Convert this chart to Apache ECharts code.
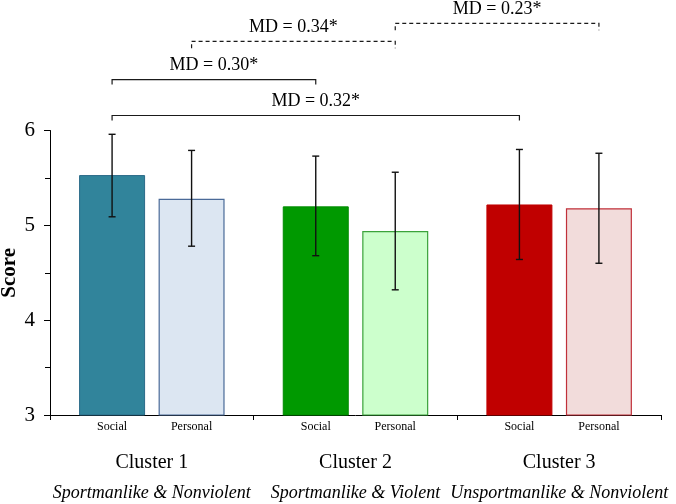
<!DOCTYPE html>
<html>
<head>
<meta charset="utf-8">
<script src="https://cdn.jsdelivr.net/npm/echarts@6/dist/echarts.min.js"></script>
<style>
  html, body { margin: 0; padding: 0; background: #fff; }
  #chart { width: 676px; height: 504px; }
</style>
</head>
<body>
<div id="chart"></div>
<script>
// ---------- data ----------
var clusters = ['Cluster 1', 'Cluster 2', 'Cluster 3'];
var clusterDescs = ['Sportmanlike & Nonviolent', 'Sportmanlike & Violent', 'Unsportmanlike & Nonviolent'];
var seriesNames = ['Social', 'Personal'];
var socialMean = [5.53, 5.20, 5.22];
var socialLow = [5.09, 4.68, 4.64];
var socialHigh = [5.96, 5.73, 5.80];
var personalMean = [5.28, 4.94, 5.18];
var personalLow = [4.78, 4.32, 4.60];
var personalHigh = [5.79, 5.56, 5.76];
var yTicks = [3, 4, 5, 6];
// brackets: [fromCluster, fromSeries(0 social / 1 personal), toCluster, toSeries]
var bracketLabels = ['MD = 0.32*', 'MD = 0.30*', 'MD = 0.34*', 'MD = 0.23*'];
var bracketPairs = [[0, 0, 2, 0], [0, 0, 1, 0], [0, 1, 1, 1], [1, 1, 2, 1]];
var bracketDashed = [false, false, true, true];

// ---------- style / layout ----------
var FONT = 'Liberation Serif';
var BAR_W = 66;
var GAP_PX = 13.5;
var bracketLevels = [6.158, 6.537, 6.94, 7.13];   // heights (in score units) above the axis
var socialColors = ['#31849B', '#009900', '#C00000'];
var socialBorders = ['#2A6A88', '#008A00', '#C00000'];
var personalColors = ['#DCE6F2', '#CCFFCC', '#F2DCDB'];
var personalBorders = ['#4A6A98', '#3BA33B', '#C0303A'];

var chart = echarts.init(document.getElementById('chart'), null, { renderer: 'canvas' });

function barOffset(side) {
  return (side === 0 ? -1 : 1) * (BAR_W + GAP_PX) / 2;
}

var socialData = socialMean.map(function (v, i) {
  return { value: v, itemStyle: { color: socialColors[i], borderColor: socialBorders[i], borderWidth: 1 } };
});
var personalData = personalMean.map(function (v, i) {
  return { value: v, itemStyle: { color: personalColors[i], borderColor: personalBorders[i], borderWidth: 1.2 } };
});

var errData = [];
for (var i = 0; i < clusters.length; i++) {
  errData.push([i, socialLow[i], socialHigh[i], 0]);
  errData.push([i, personalLow[i], personalHigh[i], 1]);
}

var bracketData = bracketLevels.map(function (lv, i) { return [0, lv, i]; });

var barLabel = {
  show: true,
  position: 'bottom',
  distance: 5,
  formatter: '{a}',
  fontFamily: FONT,
  fontSize: 12,
  color: '#000'
};

var option = {
  animation: false,
  backgroundColor: '#fff',
  grid: { left: 50, right: 15, top: 130.5, bottom: 89, containLabel: false, outerBoundsMode: 'none' },
  xAxis: {
    type: 'category',
    data: clusters,
    axisLine: { show: true, lineStyle: { color: '#000', width: 1 } },
    axisTick: { show: true, length: 5, inside: false, lineStyle: { color: '#000' } },
    axisLabel: {
      interval: 0,
      hideOverlap: false,
      margin: 32,
      formatter: function (val, idx) {
        return '{c|' + val + '}\n{i|' + clusterDescs[idx] + '}';
      },
      rich: {
        c: { fontFamily: FONT, fontSize: 20, color: '#000', lineHeight: 31 },
        i: { fontFamily: FONT, fontSize: 18, fontStyle: 'italic', color: '#000', lineHeight: 31 }
      }
    },
    splitLine: { show: false }
  },
  yAxis: {
    type: 'value',
    min: yTicks[0],
    max: yTicks[yTicks.length - 1],
    interval: 1,
    name: 'Score',
    nameLocation: 'middle',
    nameRotate: 90,
    nameGap: 30,
    nameMoveOverlap: false,
    nameTextStyle: { fontFamily: FONT, fontSize: 21, fontWeight: 'bold', color: '#000' },
    axisLine: { show: true, lineStyle: { color: '#000', width: 1 } },
    axisTick: { show: true, length: 6, lineStyle: { color: '#000' } },
    minorTick: { show: true, splitNumber: 2, length: 5, lineStyle: { color: '#000' } },
    axisLabel: { fontFamily: FONT, fontSize: 21, color: '#000', margin: 15 },
    splitLine: { show: false }
  },
  series: [
    {
      name: seriesNames[0],
      type: 'bar',
      barWidth: BAR_W,
      barGap: (GAP_PX / BAR_W * 100) + '%',
      data: socialData,
      label: barLabel
    },
    {
      name: seriesNames[1],
      type: 'bar',
      barWidth: BAR_W,
      barGap: (GAP_PX / BAR_W * 100) + '%',
      data: personalData,
      label: barLabel
    },
    {
      name: 'err',
      type: 'custom',
      data: errData,
      encode: { x: 0, y: [1, 2] },
      z: 10,
      renderItem: function (params, api) {
        var cat = api.value(0);
        var side = api.value(3);
        var lo = api.coord([cat, api.value(1)]);
        var hi = api.coord([cat, api.value(2)]);
        var x = lo[0] + barOffset(side);
        var cap = 3.5;
        var st = { stroke: '#111', lineWidth: 1.4, fill: null };
        return {
          type: 'group',
          children: [
            { type: 'line', shape: { x1: x, y1: hi[1], x2: x, y2: lo[1] }, style: st },
            { type: 'line', shape: { x1: x - cap, y1: hi[1], x2: x + cap, y2: hi[1] }, style: st },
            { type: 'line', shape: { x1: x - cap, y1: lo[1], x2: x + cap, y2: lo[1] }, style: st }
          ]
        };
      }
    },
    {
      name: 'brackets',
      type: 'custom',
      data: bracketData,
      encode: { x: 0, y: 1 },
      clip: false,
      z: 10,
      renderItem: function (params, api) {
        var k = api.value(2);
        var p = bracketPairs[k];
        var level = api.value(1);
        var a = api.coord([p[0], level]);
        var b = api.coord([p[2], level]);
        var x1 = a[0] + barOffset(p[1]);
        var x2 = b[0] + barOffset(p[3]);
        var y = a[1];
        var dashed = bracketDashed[k];
        var tick = dashed ? 7 : 5;
        var st = { stroke: '#1a1a1a', lineWidth: 1.2, fill: null, lineDash: dashed ? [4, 3] : null };
        return {
          type: 'group',
          children: [
            { type: 'polyline', shape: { points: [[x1, y + tick], [x1, y], [x2, y], [x2, y + tick]] }, style: st },
            {
              type: 'text',
              style: {
                x: (x1 + x2) / 2, y: y - 14,
                text: bracketLabels[k],
                fontFamily: FONT, fontSize: 18, fill: '#000',
                align: 'center', verticalAlign: 'middle'
              }
            }
          ]
        };
      }
    }
  ]
};

chart.setOption(option);
</script>
</body>
</html>
